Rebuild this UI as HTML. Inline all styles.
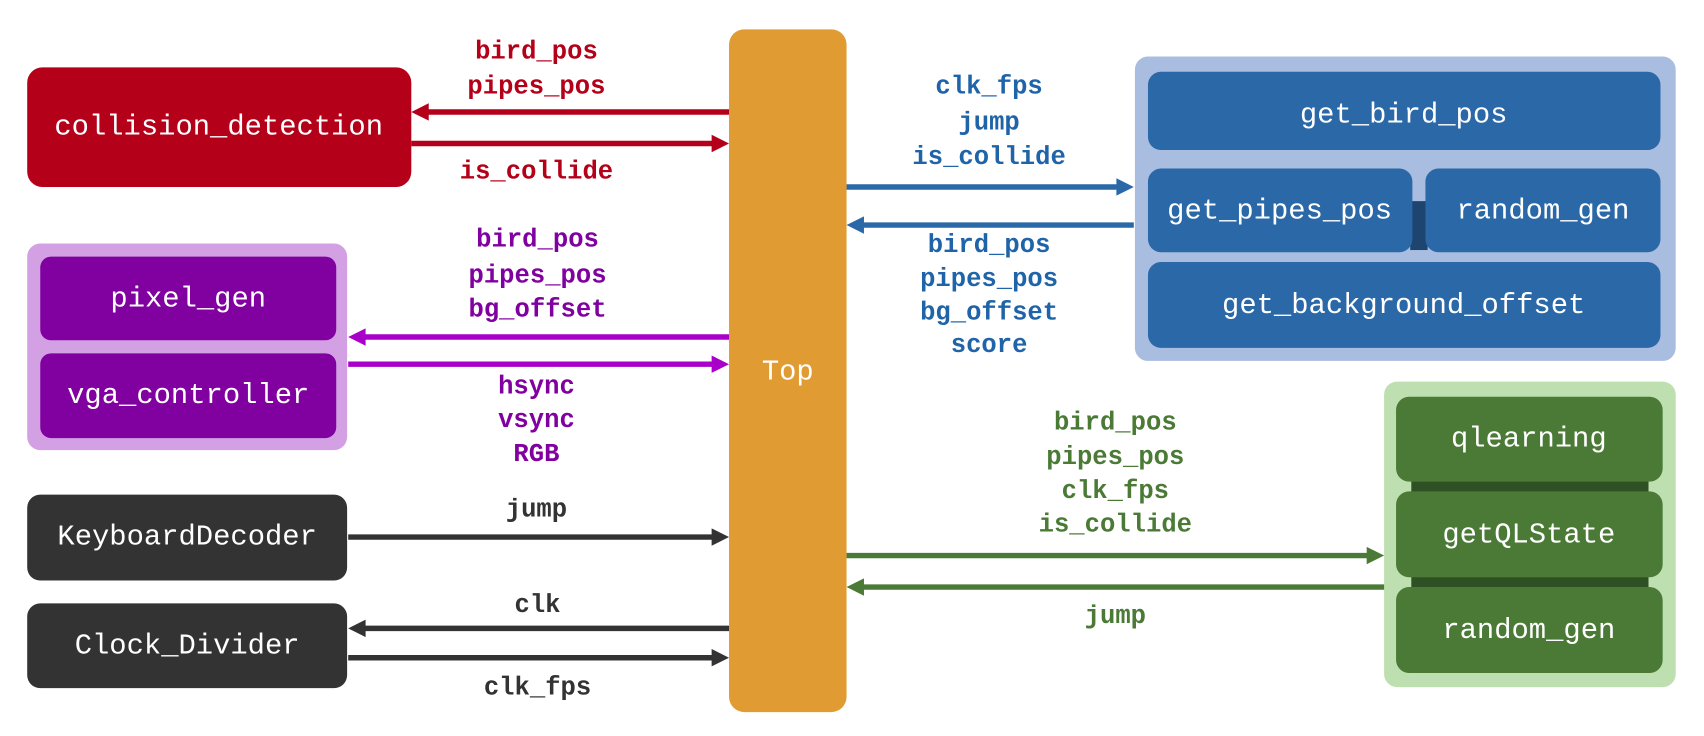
<!DOCTYPE html>
<html><head><meta charset="utf-8"><style>
html,body{margin:0;padding:0;background:#fff;width:1704px;height:736px;overflow:hidden}
svg{display:block}
text{font-family:"Liberation Mono",monospace;text-anchor:middle;dominant-baseline:central}
.b{fill:#fff;font-size:26.5px}
.l{font-size:23.5px;font-weight:bold}
</style></head><body>
<svg width="1704" height="736" viewBox="0 0 1566 677" preserveAspectRatio="none" xmlns="http://www.w3.org/2000/svg">
<rect x="670" y="27" width="108" height="628" rx="14" fill="#E09B33"/>
<text class="b" x="724" y="342">Top</text>

<rect x="25" y="62" width="353" height="110" rx="14" fill="#B5001A"/>
<text class="b" x="201" y="117">collision_detection</text>
<g fill="#B5001A" stroke="#B5001A">
<line x1="390" y1="103" x2="670" y2="103" stroke-width="5"/>
<polygon points="378,103 394,95 394,111" stroke="none"/>
<line x1="378" y1="132" x2="656" y2="132" stroke-width="5"/>
<polygon points="670,132 654,124 654,140" stroke="none"/>
</g>
<g fill="#B5001A">
<text class="l" x="493" y="48">bird_pos</text>
<text class="l" x="493" y="80">pipes_pos</text>
<text class="l" x="493" y="158">is_collide</text>
</g>

<rect x="25" y="224" width="294" height="190" rx="12" fill="#D4A0E4"/>
<rect x="37" y="236" width="272" height="77" rx="10" fill="#8000A0"/>
<rect x="37" y="325" width="272" height="78" rx="10" fill="#8000A0"/>
<text class="b" x="173" y="275">pixel_gen</text>
<text class="b" x="173" y="364">vga_controller</text>
<g fill="#A800C8" stroke="#A800C8">
<line x1="332" y1="310" x2="670" y2="310" stroke-width="5"/>
<polygon points="320,310 336,302 336,318" stroke="none"/>
<line x1="320" y1="335" x2="656" y2="335" stroke-width="5"/>
<polygon points="670,335 654,327 654,343" stroke="none"/>
</g>
<g fill="#8000A0">
<text class="l" x="494" y="221">bird_pos</text>
<text class="l" x="494" y="254">pipes_pos</text>
<text class="l" x="494" y="285">bg_offset</text>
<text class="l" x="493" y="356">hsync</text>
<text class="l" x="493" y="387">vsync</text>
<text class="l" x="493" y="418">RGB</text>
</g>

<rect x="25" y="455" width="294" height="79" rx="12" fill="#333333"/>
<text class="b" x="172" y="494">KeyboardDecoder</text>
<rect x="25" y="555" width="294" height="78" rx="12" fill="#333333"/>
<text class="b" x="172" y="594">Clock_Divider</text>
<g fill="#333" stroke="#333">
<line x1="320" y1="494" x2="656" y2="494" stroke-width="5"/>
<polygon points="670,494 654,486 654,502" stroke="none"/>
<line x1="332" y1="578" x2="670" y2="578" stroke-width="5"/>
<polygon points="320,578 336,570 336,586" stroke="none"/>
<line x1="320" y1="605" x2="656" y2="605" stroke-width="5"/>
<polygon points="670,605 654,597 654,613" stroke="none"/>
</g>
<g fill="#333">
<text class="l" x="493" y="469">jump</text>
<text class="l" x="494" y="557">clk</text>
<text class="l" x="494" y="633">clk_fps</text>
</g>

<rect x="1043" y="52" width="497" height="280" rx="12" fill="#A8BDE0"/>
<rect x="1296" y="185" width="16" height="45" fill="#1E4570"/>
<rect x="1055" y="66" width="471" height="72" rx="12" fill="#2A68A8"/>
<rect x="1055" y="155" width="243" height="77" rx="12" fill="#2A68A8"/>
<rect x="1310" y="155" width="216" height="77" rx="12" fill="#2A68A8"/>
<rect x="1055" y="241" width="471" height="79" rx="12" fill="#2A68A8"/>
<text class="b" x="1290" y="106">get_bird_pos</text>
<text class="b" x="1176" y="194">get_pipes_pos</text>
<text class="b" x="1418" y="194">random_gen</text>
<text class="b" x="1290" y="281">get_background_offset</text>
<g fill="#2A68A8" stroke="#2A68A8">
<line x1="778" y1="172" x2="1028" y2="172" stroke-width="5"/>
<polygon points="1042,172 1026,164 1026,180" stroke="none"/>
<line x1="790" y1="207" x2="1042" y2="207" stroke-width="5"/>
<polygon points="778,207 794,199 794,215" stroke="none"/>
</g>
<g fill="#1F64A8">
<text class="l" x="909" y="80">clk_fps</text>
<text class="l" x="909" y="113">jump</text>
<text class="l" x="909" y="145">is_collide</text>
<text class="l" x="909" y="226">bird_pos</text>
<text class="l" x="909" y="257">pipes_pos</text>
<text class="l" x="909" y="288">bg_offset</text>
<text class="l" x="909" y="318">score</text>
</g>

<rect x="1272" y="351" width="268" height="281" rx="12" fill="#BEDFB0"/>
<rect x="1297" y="440" width="218" height="15" fill="#2F4F25"/>
<rect x="1297" y="528" width="218" height="15" fill="#2F4F25"/>
<rect x="1283" y="365" width="245" height="78" rx="12" fill="#4A7A35"/>
<rect x="1283" y="452" width="245" height="79" rx="12" fill="#4A7A35"/>
<rect x="1283" y="540" width="245" height="79" rx="12" fill="#4A7A35"/>
<text class="b" x="1405" y="404">qlearning</text>
<text class="b" x="1405" y="492">getQLState</text>
<text class="b" x="1405" y="580">random_gen</text>
<g fill="#4A7A35" stroke="#4A7A35">
<line x1="778" y1="511" x2="1258" y2="511" stroke-width="5"/>
<polygon points="1272,511 1256,503 1256,519" stroke="none"/>
<line x1="790" y1="540" x2="1272" y2="540" stroke-width="5"/>
<polygon points="778,540 794,532 794,548" stroke="none"/>
</g>
<g fill="#4A7A35">
<text class="l" x="1025" y="389">bird_pos</text>
<text class="l" x="1025" y="421">pipes_pos</text>
<text class="l" x="1025" y="452">clk_fps</text>
<text class="l" x="1025" y="483">is_collide</text>
<text class="l" x="1025" y="567">jump</text>
</g>
</svg>
</body></html>
